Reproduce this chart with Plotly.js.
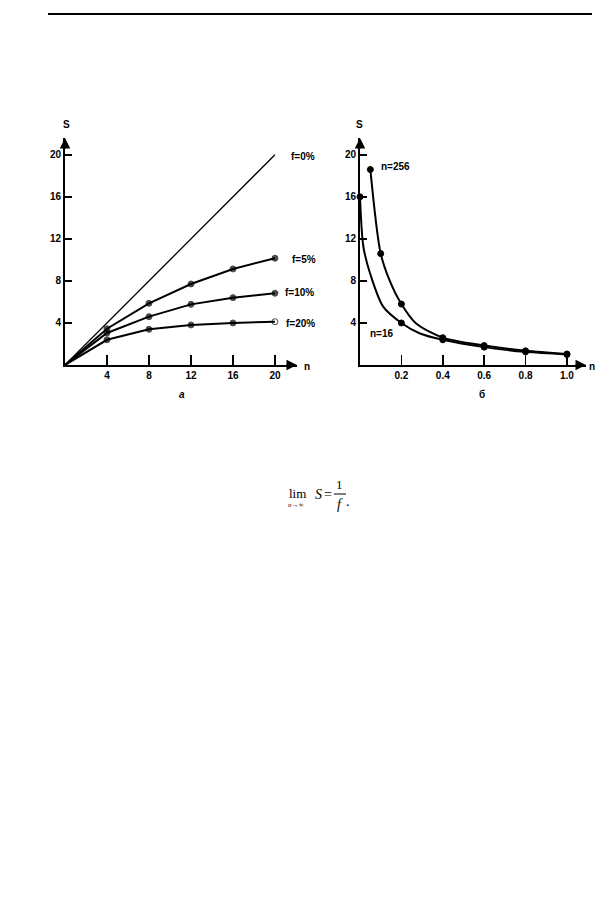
<!DOCTYPE html>
<html>
<head>
<meta charset="utf-8">
<script src="https://cdn.plot.ly/plotly-3.0.1.min.js"></script>
<style>html,body{margin:0;padding:0;background:#fff;}#chart{width:597px;height:905px;}</style>
</head>
<body>
<div id="chart"></div>
<script>
// ---- Data ----
// Panel а: speed-up S vs number of processors n
const nIdeal = [0, 20];
const sIdeal = [0, 20];
const nVals = [0, 4, 8, 12, 16, 20];
const sF5  = [0, 3.45, 5.87, 7.71, 9.14, 10.16];
const sF10 = [0, 3.05, 4.6, 5.77, 6.41, 6.83];
const sF20 = [0, 2.4, 3.4, 3.81, 4.0, 4.12];
const nTicks = [4, 8, 12, 16, 20];
const sTicks = [4, 8, 12, 16, 20];
const seriesLabelsA = ['f=0%', 'f=5%', 'f=10%', 'f=20%'];

// Panel б: speed-up S vs sequential fraction f
const fCurve16 = [0, 0.016, 0.048, 0.112, 0.2, 0.29, 0.4, 0.6, 0.8, 1.0];
const sCurve16 = [16, 11.3, 8.76, 5.55, 4.0, 3.0, 2.4, 1.7, 1.25, 1.0];
const fMark16 = [0, 0.2, 0.4, 0.6, 0.8, 1.0];
const sMark16 = [16, 4.0, 2.4, 1.7, 1.25, 1.0];
const fCurve256 = [0.05, 0.1, 0.144, 0.2, 0.27, 0.4, 0.6, 0.8, 1.0];
const sCurve256 = [18.6, 10.6, 8.0, 5.8, 3.97, 2.6, 1.85, 1.35, 1.05];
const fMark256 = [0.05, 0.1, 0.2, 0.4, 0.6, 0.8, 1.0];
const sMark256 = [18.6, 10.6, 5.8, 2.6, 1.85, 1.35, 1.05];
const fTicks = [0.2, 0.4, 0.6, 0.8, 1.0];
const fTickText = ['0.2', '0.4', '0.6', '0.8', '1.0'];
const seriesLabelsB = ['n=256', 'n=16'];

// ---- Layout helpers ----
const W = 597, H = 905;
const px = x => x / W;
const py = y => 1 - y / H;
const FONT = 'Liberation Sans, Arial, sans-serif';
const SERIF = 'Liberation Serif, Times New Roman, serif';
const tickFont = {family: FONT, size: 10, color: '#000', weight: 700};

const markSizes = nVals.map(v => v === 0 ? 0 : 6);
const mLine = {color: '#000', width: 1};

const traces = [
  {x: nIdeal, y: sIdeal, mode: 'lines', line: {color: '#000', width: 1.3}, xaxis: 'x', yaxis: 'y', cliponaxis: false},
  {x: nVals, y: sF5, mode: 'lines+markers', line: {color: '#000', width: 2}, marker: {color: '#000', size: markSizes, line: mLine}, xaxis: 'x', yaxis: 'y', cliponaxis: false},
  {x: nVals, y: sF10, mode: 'lines+markers', line: {color: '#000', width: 2}, marker: {color: '#000', size: markSizes, line: mLine}, xaxis: 'x', yaxis: 'y', cliponaxis: false},
  {x: nVals, y: sF20, mode: 'lines+markers', line: {color: '#000', width: 2}, marker: {color: '#000', size: markSizes,
     symbol: nVals.map((v, i) => i === nVals.length - 1 ? 'circle-open' : 'circle'), line: mLine}, xaxis: 'x', yaxis: 'y', cliponaxis: false},
  {x: fCurve256, y: sCurve256, mode: 'lines', line: {color: '#000', width: 2, shape: 'spline', smoothing: 0.8}, xaxis: 'x2', yaxis: 'y2', cliponaxis: false},
  {x: fMark256, y: sMark256, mode: 'markers', marker: {color: '#000', size: 6, line: mLine}, xaxis: 'x2', yaxis: 'y2', cliponaxis: false},
  {x: fCurve16, y: sCurve16, mode: 'lines', line: {color: '#000', width: 2, shape: 'spline', smoothing: 0.8}, xaxis: 'x2', yaxis: 'y2', cliponaxis: false},
  {x: fMark16, y: sMark16, mode: 'markers', marker: {color: '#000', size: 6, line: mLine}, xaxis: 'x2', yaxis: 'y2', cliponaxis: false}
];

const xRangeA = [0, 22.1], yRange = [0, 21.6], xRangeB = [0, 1.092];

function axisCommon() {
  return {showgrid: false, zeroline: false, showline: true, linecolor: '#000', linewidth: 2,
          ticks: 'inside', tickcolor: '#000', tickwidth: 1.5, tickfont: tickFont, fixedrange: true};
}

function label(x, y, text, font) {
  return {xref: 'paper', yref: 'paper', x: px(x), y: py(y), text: text, showarrow: false,
          xanchor: 'center', yanchor: 'middle', font: Object.assign({color: '#000'}, font)};
}
const bold = s => ({family: FONT, size: s, weight: 700});
const serif = s => ({family: SERIF, size: s});

function arrow(xr, yr, x, y, ax, ay) {
  return {xref: xr, yref: yr, x: x, y: y, ax: ax, ay: ay, text: '', showarrow: true,
          arrowhead: 2, arrowsize: 1.4, arrowwidth: 1.5, arrowcolor: '#000'};
}

const layout = {
  width: W, height: H,
  margin: {l: 0, r: 0, t: 0, b: 0},
  paper_bgcolor: '#fff', plot_bgcolor: 'rgba(0,0,0,0)',
  showlegend: false,
  font: {family: FONT, color: '#000'},
  xaxis: Object.assign(axisCommon(), {domain: [px(65), px(297)], range: xRangeA, tickvals: nTicks, ticklen: 10, anchor: 'y'}),
  yaxis: Object.assign(axisCommon(), {domain: [py(365), py(138)], range: yRange, tickvals: sTicks, ticklen: 7, anchor: 'x'}),
  xaxis2: Object.assign(axisCommon(), {domain: [px(360), px(586)], range: xRangeB, tickvals: fTicks, ticktext: fTickText, ticklen: 10, anchor: 'y2'}),
  yaxis2: Object.assign(axisCommon(), {domain: [py(365), py(138)], range: yRange, tickvals: sTicks, ticklen: 7, anchor: 'x2'}),
  shapes: [
    {type: 'line', xref: 'paper', yref: 'paper', x0: px(48), x1: px(592), y0: py(14), y1: py(14), line: {color: '#000', width: 2}},
    {type: 'line', xref: 'paper', yref: 'paper', x0: px(334), x1: px(346), y0: py(494), y1: py(494), line: {color: '#000', width: 1}}
  ],
  annotations: [
    arrow('x', 'y', xRangeA[1], 0, -12, 0),
    arrow('x', 'y', 0, yRange[1], 0, 12),
    arrow('x2', 'y2', xRangeB[1], 0, -12, 0),
    arrow('x2', 'y2', 0, yRange[1], 0, 12),
    label(66, 125, 'S', bold(10)),
    label(360, 125, 'S', bold(10)),
    label(307, 366, 'n', bold(10)),
    label(592, 366, 'n', bold(10)),
    label(303, 156, seriesLabelsA[0], bold(10)),
    label(304, 259, seriesLabelsA[1], bold(10)),
    label(299, 292, seriesLabelsA[2], bold(10)),
    label(300, 323, seriesLabelsA[3], bold(10)),
    label(395, 166, seriesLabelsB[0], bold(10)),
    label(382, 333, seriesLabelsB[1], bold(10)),
    label(182, 394, '<i>а</i>', bold(10)),
    label(482, 394, 'б', bold(10)),
    label(297, 493, 'lim', serif(13)),
    label(296, 505, '<i>n</i>→∞', serif(7)),
    label(318, 494, '<i>S</i>', serif(14)),
    label(328, 494, '=', serif(14)),
    label(340, 485, '1', serif(13)),
    label(340, 504, '<i>f</i>', serif(14)),
    label(348, 501, '.', serif(14))
  ]
};

Plotly.newPlot('chart', traces, layout, {staticPlot: true, displayModeBar: false});
</script>
</body>
</html>
